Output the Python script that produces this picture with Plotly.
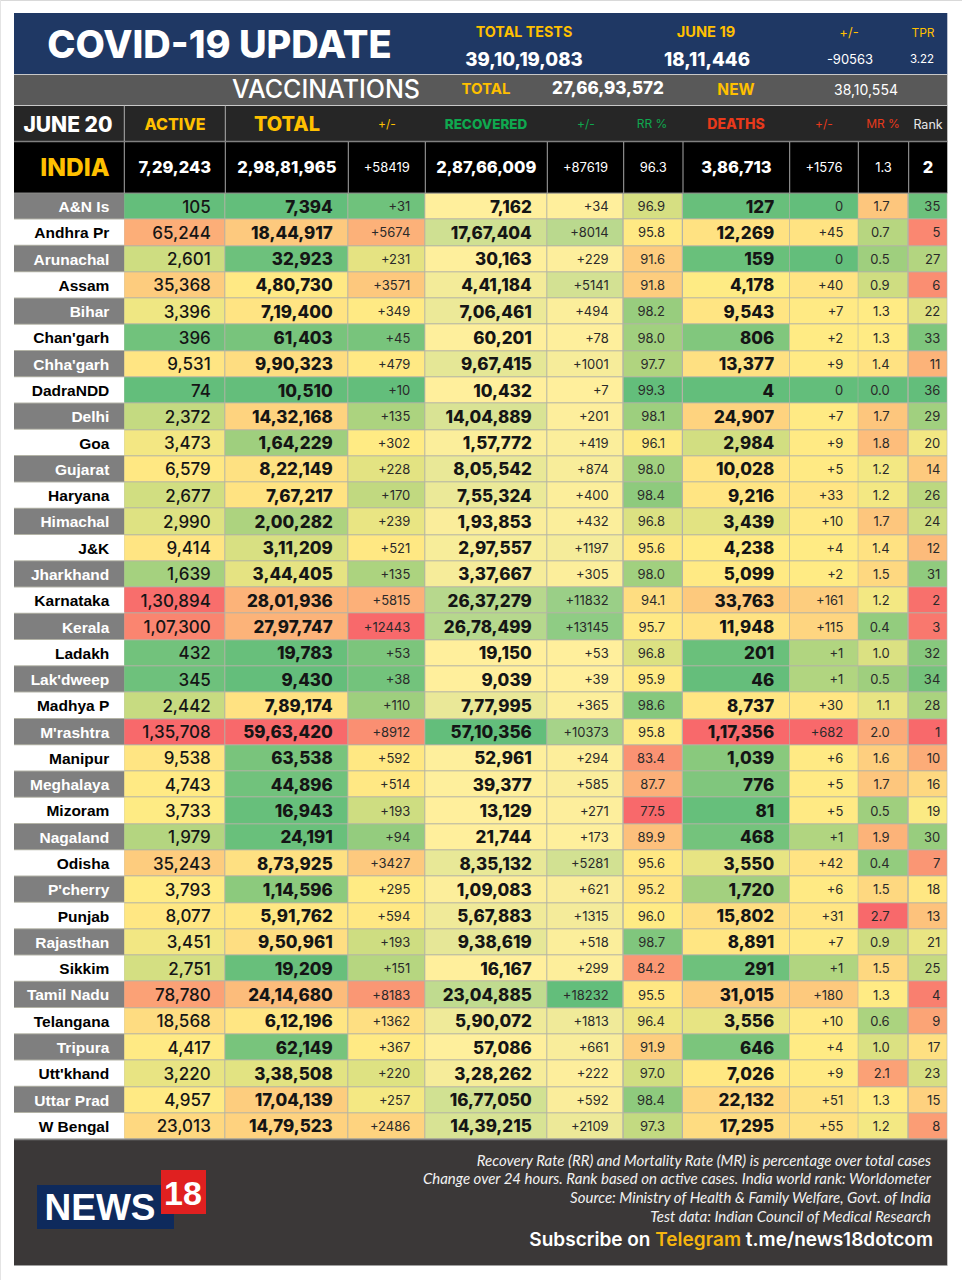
import plotly.graph_objects as go

# ---- data ----
states = ["A&N Is", "Andhra Pr", "Arunachal", "Assam", "Bihar", "Chan'garh", "Chha'garh", "DadraNDD", "Delhi", "Goa",
          "Gujarat", "Haryana", "Himachal", "J&K", "Jharkhand", "Karnataka", "Kerala", "Ladakh", "Lak'dweep", "Madhya P",
          "M'rashtra", "Manipur", "Meghalaya", "Mizoram", "Nagaland", "Odisha", "P'cherry", "Punjab", "Rajasthan", "Sikkim",
          "Tamil Nadu", "Telangana", "Tripura", "Utt'khand", "Uttar Prad", "W Bengal"]
active = [105, 65244, 2601, 35368, 3396, 396, 9531, 74, 2372, 3473, 6579, 2677, 2990, 9414, 1639, 130894, 107300, 432,
          345, 2442, 135708, 9538, 4743, 3733, 1979, 35243, 3793, 8077, 3451, 2751, 78780, 18568, 4417, 3220, 4957, 23013]
total = [7394, 1844917, 32923, 480730, 719400, 61403, 990323, 10510, 1432168, 164229, 822149, 767217, 200282, 311209,
         344405, 2801936, 2797747, 19783, 9430, 789174, 5963420, 63538, 44896, 16943, 24191, 873925, 114596, 591762,
         950961, 19209, 2414680, 612196, 62149, 338508, 1704139, 1479523]
total_chg = [31, 5674, 231, 3571, 349, 45, 479, 10, 135, 302, 228, 170, 239, 521, 135, 5815, 12443, 53, 38, 110, 8912,
             592, 514, 193, 94, 3427, 295, 594, 193, 151, 8183, 1362, 367, 220, 257, 2486]
recovered = [7162, 1767404, 30163, 441184, 706461, 60201, 967415, 10432, 1404889, 157772, 805542, 755324, 193853,
             297557, 337667, 2637279, 2678499, 19150, 9039, 777995, 5710356, 52961, 39377, 13129, 21744, 835132, 109083,
             567883, 938619, 16167, 2304885, 590072, 57086, 328262, 1677050, 1439215]
recovered_chg = [34, 8014, 229, 5141, 494, 78, 1001, 7, 201, 419, 874, 400, 432, 1197, 305, 11832, 13145, 53, 39, 365,
                 10373, 294, 585, 271, 173, 5281, 621, 1315, 518, 299, 18232, 1813, 661, 222, 592, 2109]
rr = [96.9, 95.8, 91.6, 91.8, 98.2, 98.0, 97.7, 99.3, 98.1, 96.1, 98.0, 98.4, 96.8, 95.6, 98.0, 94.1, 95.7, 96.8, 95.9,
      98.6, 95.8, 83.4, 87.7, 77.5, 89.9, 95.6, 95.2, 96.0, 98.7, 84.2, 95.5, 96.4, 91.9, 97.0, 98.4, 97.3]
deaths = [127, 12269, 159, 4178, 9543, 806, 13377, 4, 24907, 2984, 10028, 9216, 3439, 4238, 5099, 33763, 11948, 201, 46,
          8737, 117356, 1039, 776, 81, 468, 3550, 1720, 15802, 8891, 291, 31015, 3556, 646, 7026, 22132, 17295]
deaths_chg = [0, 45, 0, 40, 7, 2, 9, 0, 7, 9, 5, 33, 10, 4, 2, 161, 115, 1, 1, 30, 682, 6, 5, 5, 1, 42, 6, 31, 7, 1, 180,
              10, 4, 9, 51, 55]
mr = [1.7, 0.7, 0.5, 0.9, 1.3, 1.3, 1.4, 0.0, 1.7, 1.8, 1.2, 1.2, 1.7, 1.4, 1.5, 1.2, 0.4, 1.0, 0.5, 1.1, 2.0, 1.6, 1.7,
      0.5, 1.9, 0.4, 1.5, 2.7, 0.9, 1.5, 1.3, 0.6, 1.0, 2.1, 1.3, 1.2]
rank = [35, 5, 27, 6, 22, 33, 11, 36, 29, 20, 14, 26, 24, 12, 31, 2, 3, 32, 34, 28, 1, 10, 16, 19, 30, 7, 18, 13, 21, 25,
        4, 9, 17, 23, 15, 8]

india_row = ["7,29,243", "2,98,81,965", "+58419", "2,87,66,009", "+87619", "96.3", "3,86,713", "+1576", "1.3", "2"]
footer_lines = ["Recovery Rate (RR) and Mortality Rate (MR) is percentage over total cases",
                "Change over 24 hours. Rank based on active cases. India world rank: Worldometer",
                "Source: Ministry of Health & Family Welfare, Govt. of India",
                "Test data: Indian Council of Medical Research"]

# ---- layout in page pixels ----
col_edges = [14, 124.3, 225.3, 348.3, 425.3, 547.3, 623.7, 683, 789.7, 858.3, 908.7, 947.3]
row_top, row_h = 193.3, 26.28
row_edges = [row_top + i * row_h for i in range(len(states) + 1)]
row_mid = [row_top + (i + 0.5) * row_h for i in range(len(states))]
col_mid = [(a + b) / 2 for a, b in zip(col_edges[:-1], col_edges[1:])]

NUM = "Inter"
SANS = "Liberation Sans"
GOLD = "#ffc000"
GREEN = "#0fa84f"
RED = "#e8391b"
G, Y, R = "#63be7b", "#ffeb84", "#f8696b"
PALE = "#ffef9c"


def lakh(n):
    s = str(n)
    if len(s) <= 3:
        return s
    head, tail = s[:-3], s[-3:]
    parts = []
    while len(head) > 2:
        parts.insert(0, head[-2:])
        head = head[:-2]
    parts.insert(0, head)
    return ",".join(parts) + "," + tail


def signed(n):
    return "+%d" % n if n else "0"


def median(vals):
    v = sorted(vals)
    return (v[len(v) // 2 - 1] + v[len(v) // 2]) / 2


def three_colour(vals, low, high, mid=None):
    # spreadsheet style scale, the yellow sits on the median unless told otherwise
    lo, hi = min(vals), max(vals)
    if mid is None:
        mid = median(vals)
    return [[0, low], [(mid - lo) / (hi - lo), Y], [1, high]]


fig = go.Figure()


def add_text(x, y, labels, size, color="#ffffff", family=NUM, weight=400, pos="middle center", style="normal"):
    if not isinstance(x, list):
        x = [x]
    if not isinstance(y, list):
        y = [y]
    if not isinstance(labels, list):
        labels = [labels]
    # plotly's "middle" sits a bit high, nudge by the font size
    y = [v + size * 0.11 for v in y]
    fig.add_trace(go.Scatter(x=x, y=y, text=labels, mode="text", textposition=pos, cliponaxis=False,
                             hoverinfo="skip", showlegend=False,
                             textfont=dict(family=family, size=size, color=color, weight=weight, style=style)))


def rect(x0, y0, x1, y1, color):
    fig.add_shape(type="rect", x0=x0, y0=y0, x1=x1, y1=y1, fillcolor=color, line_width=0, layer="below")


def line(x0, y0, x1, y1, color, width=1):
    fig.add_shape(type="line", x0=x0, y0=y0, x1=x1, y1=y1, line=dict(color=color, width=width), layer="above")


# ---- panels ----
left, right = col_edges[0], col_edges[-1]
rect(left, 13, right, 74.5, "#1f3864")
rect(left, 74.5, right, 105.5, "#595959")
rect(left, 105.5, right, 142, "#262626")
rect(left, 142, right, 193, "#000000")
rect(left, 193, right, row_edges[-1] + 0.5, "#b3b3a6")
rect(left, 1140, right, 1265.5, "#3b3838")
rect(0, 0, 962, 1, "#d9d9d9")
rect(0, 0, 1, 1280, "#e4e4e4")
line(left, 74.5, right, 74.5, "#c8c8c8")
line(left, 105.5, right, 105.5, "#c8c8c8")
line(left, 141.5, right, 141.5, "#808080", 1.5)
line(left, 193, right, 193, "#808080", 1)
line(left, 1139.5, right, 1139.5, "#808080", 1.5)
line(left, 1265.5, right, 1265.5, "#a0a0a0", 1)
for edge in col_edges[1:3]:
    line(edge, 105.5, edge, 141, "#b0b0b0")
for edge in col_edges[1:-1]:
    line(edge, 142, edge, 193, "#a8a8a8")

for i in range(len(states)):
    rect(left, row_edges[i], col_edges[1], row_edges[i + 1] - 1, "#7f7f7f" if i % 2 == 0 else "#ffffff")

# ---- coloured cells, one heatmap per sheet column ----
green_up = [[0, PALE], [1, G]]
columns = [
    (active, three_colour(active, G, R)),
    (total, three_colour(total, G, R)),
    (total_chg, three_colour(total_chg, G, R)),
    (recovered, green_up),
    (recovered_chg, green_up),
    (rr, three_colour(rr, R, G)),
    (deaths, three_colour(deaths, G, R)),
    (deaths_chg, three_colour(deaths_chg, G, R, mid=2)),
    (mr, three_colour(mr, G, R)),
    (rank, three_colour(rank, R, G)),
]
for k, (vals, scale) in enumerate(columns):
    fig.add_trace(go.Heatmap(z=[[v] for v in vals], x=[col_edges[k + 1], col_edges[k + 2]], y=row_edges,
                             colorscale=scale, zmin=min(vals), zmax=max(vals), showscale=False,
                             xgap=1, ygap=1, hoverinfo="skip"))

# ---- top banner ----
add_text(219.5, 44, "COVID-19 UPDATE", 38, family=NUM, weight=800)
add_text(524, 32, "TOTAL TESTS", 14.3, GOLD, weight=700)
add_text(706, 32, "JUNE 19", 14.6, GOLD, weight=700)
add_text(849, 32, "+/-", 13, GOLD)
add_text(923, 33, "TPR", 12, GOLD)
add_text(524, 59, "39,10,19,083", 18.6, weight=800)
add_text(707, 59, "18,11,446", 18.6, weight=800)
add_text(850, 59, "-90563", 13)
add_text(922, 59, "3.22", 11.5)

add_text(326, 89, "VACCINATIONS", 25, weight=500)
add_text(486, 89, "TOTAL", 15, GOLD, weight=700)
add_text(608, 88, "27,66,93,572", 17, weight=800)
add_text(736, 89, "NEW", 15.5, GOLD, weight=700)
add_text(866, 90, "38,10,554", 14)

add_text(68, 124, "JUNE 20", 21, weight=800)
add_text(175, 124, "ACTIVE", 16, GOLD, weight=800)
add_text(287, 124, "TOTAL", 20, GOLD, weight=800)
add_text(387, 124, "+/-", 12, GOLD)
add_text(486, 124, "RECOVERED", 13.5, GREEN, weight=800)
add_text(586, 124, "+/-", 12, GREEN)
add_text(652, 124, "RR %", 12, GREEN)
add_text(736, 124, "DEATHS", 14, RED, weight=800)
add_text(824, 124, "+/-", 12, RED)
add_text(883, 124, "MR %", 12, RED)
add_text(928, 124, "Rank", 12.5, "#e8e8e8")

add_text(75, 167, "INDIA", 24.5, GOLD, weight=800)
for k, label in enumerate(india_row):
    heavy = k in (0, 1, 3, 6, 9)
    add_text(col_mid[k + 1], 167, label, 16.5 if heavy else 13, weight=800 if heavy else 400)

# ---- table text ----
name_colors = ["#ffffff" if i % 2 == 0 else "#000000" for i in range(len(states))]
add_text([col_edges[1] - 15] * len(states), row_mid, states, 15.5, name_colors, family=SANS, weight=700, pos="middle left")

INK = "#151515"
SOFT = "#2a2a2a"
text_cols = [
    ([lakh(v) for v in active], 17, 500, 14.5, INK),
    ([lakh(v) for v in total], 17, 800, 15.5, INK),
    ([signed(v) for v in total_chg], 13, 400, 15, SOFT),
    ([lakh(v) for v in recovered], 17, 800, 15.5, INK),
    ([signed(v) for v in recovered_chg], 13, 400, 15, SOFT),
    (["%.1f" % v for v in rr], 13, 400, 18, SOFT),
    ([lakh(v) for v in deaths], 17, 800, 15.5, INK),
    ([signed(v) for v in deaths_chg], 13, 400, 15, SOFT),
    (["%.1f" % v for v in mr], 13, 400, 19, SOFT),
    ([str(v) for v in rank], 13, 400, 7, SOFT),
]
for k, (labels, size, weight, pad, ink) in enumerate(text_cols):
    add_text([col_edges[k + 2] - pad] * len(states), row_mid, labels, size, ink, weight=weight, pos="middle left")

# ---- footer ----
foot_y = [1160.5, 1179, 1198, 1217]
add_text([931] * 4, foot_y, footer_lines, 15, "#f2f2f2", family="Lato", pos="middle left", style="italic")
add_text(933, 1239, 'Subscribe on <span style="color:#f5b50f">Telegram</span> t.me/news18dotcom', 19,
         "#ffffff", weight=600, pos="middle left")

# logo
rect(37, 1185, 174, 1229, "#0e2a5c")
rect(161, 1170, 206, 1214, "#e02020")
add_text(100, 1207, "NEWS", 37, family=SANS, weight=700)
add_text(183, 1193, "18", 34, family=SANS, weight=700)

fig.update_layout(
    width=962, height=1280, margin=dict(l=0, r=0, t=0, b=0), paper_bgcolor="#ffffff", plot_bgcolor="#ffffff",
    showlegend=False,
    xaxis=dict(range=[0, 962], visible=False, fixedrange=True),
    yaxis=dict(range=[1280, 0], visible=False, fixedrange=True),
)

fig.write_html("out.html", post_script="document.body.style.margin='0';document.body.style.overflow='hidden';",
               config={"displayModeBar": False})
